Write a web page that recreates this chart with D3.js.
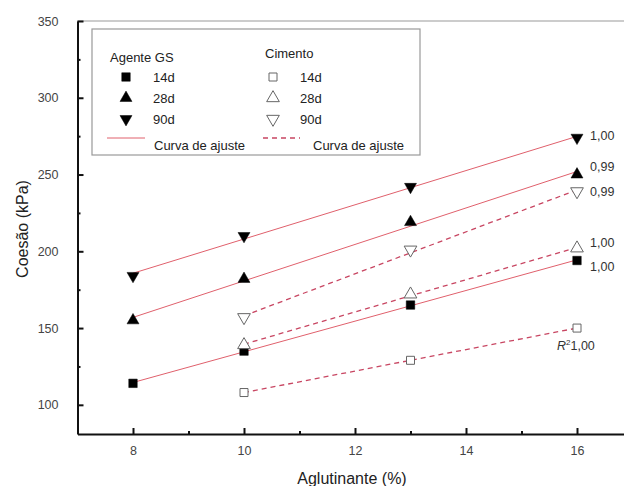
<!DOCTYPE html>
<html>
<head>
<meta charset="utf-8">
<script src="https://cdn.jsdelivr.net/npm/d3@7"></script>
<style>
  html, body { margin: 0; padding: 0; background: #fff; }
  svg { display: block; font-family: "Liberation Sans", Arial, sans-serif; }
</style>
</head>
<body>
<svg id="chart" width="624" height="486"></svg>
<script>
// Binder content (%) for each group
const xGS = [8, 10, 13, 16];
const xCim = [10, 13, 16];

// Cohesion (kPa) - Agente GS
const gs14 = [114, 135, 165, 194];
const gs28 = [155, 182, 219, 250];
const gs90 = [184, 210, 242, 274];

// Cohesion (kPa) - Cimento
const cim14 = [108, 129, 150];
const cim28 = [139, 172, 202];
const cim90 = [157, 201, 239];

// R² annotation texts
const r2Text = {
  gs90: "1,00", gs28: "0,99", gs14: "1,00",
  cim90: "0,99", cim28: "1,00", cim14: "1,00"
};

const yTicks = [100, 150, 200, 250, 300, 350];
const yMinor = [125, 175, 225, 275, 325];
const xTicks = [8, 10, 12, 14, 16];
const xMinor = [9, 11, 13, 15];

const svg = d3.select("#chart");
const x = d3.scaleLinear().domain([7, 17]).range([77.5, 632.5]);
const y = d3.scaleLinear().domain([81, 350]).range([434, 21]);

const solidColor = "#e0606c";
const dashColor = "#c84662";

// top frame line
svg.append("line")
  .attr("x1", x(7)).attr("x2", x(17))
  .attr("y1", y(350)).attr("y2", y(350))
  .attr("stroke", "#999").attr("stroke-width", 1);

// axes
svg.append("g").attr("transform", `translate(${x(7)},0)`)
  .call(d3.axisLeft(y).tickValues(yTicks).tickSizeInner(-6).tickSizeOuter(0).tickPadding(19));
svg.append("g").attr("transform", `translate(${x(7)},0)`)
  .call(d3.axisLeft(y).tickValues(yMinor).tickSizeInner(-3).tickSizeOuter(0).tickFormat(""))
  .call(g => g.select(".domain").remove());

svg.append("g").attr("transform", `translate(0,${y(81)})`)
  .call(d3.axisBottom(x).tickValues(xTicks).tickSizeInner(-6).tickSizeOuter(0).tickPadding(12));
svg.append("g").attr("transform", `translate(0,${y(81)})`)
  .call(d3.axisBottom(x).tickValues(xMinor).tickSizeInner(-3).tickSizeOuter(0).tickFormat(""))
  .call(g => g.select(".domain").remove());

svg.selectAll(".domain").attr("stroke", "#111").attr("stroke-width", 2);
svg.selectAll(".tick line").attr("stroke", "#111").attr("stroke-width", 2);
svg.selectAll(".tick text").attr("fill", "#444").attr("font-size", 12.5)
  .attr("font-family", "Liberation Sans, Arial, sans-serif");

// axis titles
svg.append("text")
  .attr("x", 352).attr("y", 484)
  .attr("text-anchor", "middle").attr("font-size", 16).attr("fill", "#222")
  .text("Aglutinante (%)");
svg.append("text")
  .attr("transform", "translate(28,229) rotate(-90)")
  .attr("text-anchor", "middle").attr("font-size", 16).attr("fill", "#222")
  .text("Coesão (kPa)");

// least-squares fit
function fit(xs, ys) {
  const mx = d3.mean(xs), my = d3.mean(ys);
  const b = d3.sum(xs, (v, i) => (v - mx) * (ys[i] - my)) / d3.sum(xs, v => (v - mx) ** 2);
  const a = my - b * mx;
  return v => a + b * v;
}

const series = [
  { key: "gs14", xs: xGS, ys: gs14, sym: "square", filled: true, dash: false },
  { key: "gs28", xs: xGS, ys: gs28, sym: "up", filled: true, dash: false },
  { key: "gs90", xs: xGS, ys: gs90, sym: "down", filled: true, dash: false },
  { key: "cim14", xs: xCim, ys: cim14, sym: "square", filled: false, dash: true },
  { key: "cim28", xs: xCim, ys: cim28, sym: "up", filled: false, dash: true },
  { key: "cim90", xs: xCim, ys: cim90, sym: "down", filled: false, dash: true }
];

function symbolPath(sym, filled) {
  if (sym === "square") return d3.symbol(d3.symbolSquare, filled ? 72 : 64)();
  return d3.symbol(d3.symbolTriangle, filled ? 62 : 70)();
}

function drawSymbol(g, sym, filled, cx, cy) {
  const rot = sym === "down" ? 180 : 0;
  g.append("path")
    .attr("d", symbolPath(sym, filled))
    .attr("transform", `translate(${cx},${cy}) rotate(${rot})`)
    .attr("fill", filled ? "#000" : "#fff")
    .attr("stroke", filled ? "#000" : "#666")
    .attr("stroke-width", filled ? 0.5 : 1);
}

// fit lines
const lineLayer = svg.append("g");
series.forEach(s => {
  const f = fit(s.xs, s.ys);
  const x0 = d3.min(s.xs), x1 = d3.max(s.xs);
  lineLayer.append("line")
    .attr("x1", x(x0)).attr("y1", y(f(x0)))
    .attr("x2", x(x1)).attr("y2", y(f(x1)))
    .attr("stroke", s.dash ? dashColor : solidColor)
    .attr("stroke-width", s.dash ? 1.3 : 1)
    .attr("stroke-dasharray", s.dash ? "5,4" : null);
});

// markers
const markLayer = svg.append("g");
series.forEach(s => {
  s.xs.forEach((xv, i) => drawSymbol(markLayer, s.sym, s.filled, x(xv), y(s.ys[i])));
});

// R² labels next to the last point of each series
const labelOffsets = {
  gs90: [13, 2], gs28: [13, -4], cim90: [13, 5],
  cim28: [13, -1], gs14: [13, 10], cim14: [-20, 22]
};
series.forEach(s => {
  const n = s.xs.length - 1;
  const [dx, dy] = labelOffsets[s.key];
  const t = svg.append("text")
    .attr("x", x(s.xs[n]) + dx).attr("y", y(s.ys[n]) + dy)
    .attr("font-size", 12.5).attr("fill", "#333");
  if (s.key === "cim14") {
    t.append("tspan").attr("font-style", "italic").text("R");
    t.append("tspan").attr("font-size", 8).attr("dy", -5).text("2");
    t.append("tspan").attr("dy", 5).text(r2Text[s.key]);
  } else {
    t.text(r2Text[s.key]);
  }
});

// legend
const lg = svg.append("g");
lg.append("rect")
  .attr("x", 92).attr("y", 29).attr("width", 328).attr("height", 126)
  .attr("fill", "#fff").attr("stroke", "#999").attr("stroke-width", 1.2);

const legendFont = 13;
lg.append("text").attr("x", 110).attr("y", 62).attr("font-size", legendFont).attr("fill", "#222").text("Agente GS");
lg.append("text").attr("x", 265).attr("y", 58).attr("font-size", legendFont).attr("fill", "#222").text("Cimento");

const legendRows = [
  { label: "14d", sym: "square", y: 77 },
  { label: "28d", sym: "up", y: 98 },
  { label: "90d", sym: "down", y: 119 }
];
legendRows.forEach(r => {
  drawSymbol(lg, r.sym, true, 126, r.y);
  lg.append("text").attr("x", 153).attr("y", r.y + 5).attr("font-size", legendFont).attr("fill", "#222").text(r.label);
  drawSymbol(lg, r.sym, false, 273, r.y);
  lg.append("text").attr("x", 300).attr("y", r.y + 5).attr("font-size", legendFont).attr("fill", "#222").text(r.label);
});

lg.append("line").attr("x1", 107).attr("x2", 145).attr("y1", 138).attr("y2", 138)
  .attr("stroke", solidColor).attr("stroke-width", 1);
lg.append("text").attr("x", 154).attr("y", 150).attr("font-size", legendFont).attr("fill", "#222").text("Curva de ajuste");
lg.append("line").attr("x1", 263).attr("x2", 300).attr("y1", 138).attr("y2", 138)
  .attr("stroke", dashColor).attr("stroke-width", 1.3).attr("stroke-dasharray", "5,4");
lg.append("text").attr("x", 313).attr("y", 150).attr("font-size", legendFont).attr("fill", "#222").text("Curva de ajuste");
</script>
</body>
</html>
